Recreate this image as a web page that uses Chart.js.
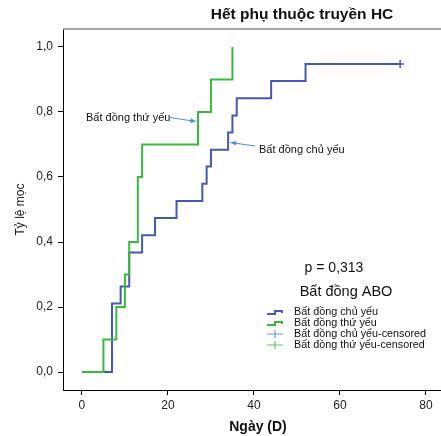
<!DOCTYPE html>
<html>
<head>
<meta charset="utf-8">
<script src="https://cdn.jsdelivr.net/npm/chart.js@4"></script>
<style>
body { margin: 0; background: #fff; }
</style>
</head>
<body>
<canvas id="kmChart" width="441" height="436"></canvas>
<script>
// Bất đồng chủ yếu (xanh dương)
var majorDays = [0, 7, 9, 11, 14, 17, 22, 28, 29, 30, 34, 35, 36, 44, 52, 74];
var majorRate = [0, 0.211, 0.263, 0.368, 0.421, 0.474, 0.526, 0.579, 0.632, 0.684, 0.737, 0.789, 0.842, 0.895, 0.947, 0.947];
var majorCensDays = [74];
var majorCensRate = [0.947];
// Bất đồng thứ yếu (xanh lá)
var minorDays = [0, 5, 8, 10, 11, 13, 14, 27, 30, 35];
var minorRate = [0, 0.1, 0.2, 0.3, 0.4, 0.6, 0.7, 0.8, 0.9, 1.0];
var minorCensDays = [];
var minorCensRate = [];

var xTicks = [0, 20, 40, 60, 80];
var yTicks = [0, 0.2, 0.4, 0.6, 0.8, 1.0];

var blue = '#4459b3';
var green = '#38bb3a';
var font = '"Liberation Sans", Arial, sans-serif';

function pts(xs, ys) {
  return xs.map(function (x, i) { return {x: x, y: ys[i]}; });
}

var extras = {
  id: 'extras',
  afterDraw: function (chart) {
    var ctx = chart.ctx, a = chart.chartArea;
    ctx.save();
    // top frame
    ctx.strokeStyle = '#8a8a8a';
    ctx.lineWidth = 1.5;
    ctx.beginPath();
    ctx.moveTo(a.left, a.top);
    ctx.lineTo(chart.width, a.top);
    ctx.stroke();

    ctx.fillStyle = '#111';
    ctx.textBaseline = 'middle';
    ctx.textAlign = 'center';
    ctx.font = 'bold 15.5px ' + font;
    ctx.fillText('Hết phụ thuộc truyền HC', 302, 15);
    ctx.font = 'bold 14px ' + font;
    ctx.fillText('Ngày (D)', 258, 427);

    // annotations
    ctx.font = '11px ' + font;
    ctx.textAlign = 'left';
    ctx.fillText('Bất đồng thứ yếu', 86, 118);
    ctx.fillText('Bất đồng chủ yếu', 259, 150);
    arrow(ctx, 170, 117.5, 196, 121.5);
    arrow(ctx, 255, 146, 230.5, 142.5);

    // legend
    ctx.fillStyle = '#111';
    ctx.textAlign = 'center';
    ctx.font = '14px ' + font;
    ctx.fillText('p = 0,313', 334, 268);
    ctx.font = '14.5px ' + font;
    ctx.fillText('Bất đồng ABO', 346, 292);
    ctx.textAlign = 'left';
    ctx.font = '10.8px ' + font;
    var rows = [
      ['Bất đồng chủ yếu', blue, 'step'],
      ['Bất đồng thứ yếu', green, 'step'],
      ['Bất đồng chủ yếu-censored', '#7d8fd8', 'cens'],
      ['Bất đồng thứ yếu-censored', '#5cc95c', 'cens']
    ];
    rows.forEach(function (r, i) {
      var y = 312 + i * 11;
      ctx.fillStyle = '#111';
      ctx.fillText(r[0], 294, y);
      ctx.strokeStyle = r[1];
      ctx.beginPath();
      if (r[2] === 'step') {
        ctx.lineWidth = 2;
        ctx.moveTo(267, y + 2);
        ctx.lineTo(275, y + 2);
        ctx.lineTo(275, y - 1);
        ctx.lineTo(282, y - 1);
        ctx.lineTo(282, y + 1);
      } else {
        ctx.lineWidth = 1.2;
        ctx.moveTo(267, y);
        ctx.lineTo(283, y);
        ctx.moveTo(275, y - 4);
        ctx.lineTo(275, y + 4);
      }
      ctx.stroke();
    });
    ctx.restore();
  }
};

function arrow(ctx, x1, y1, x2, y2) {
  var ang = Math.atan2(y2 - y1, x2 - x1);
  ctx.strokeStyle = '#4a90d9';
  ctx.fillStyle = '#4a90d9';
  ctx.lineWidth = 1;
  ctx.beginPath();
  ctx.moveTo(x1, y1);
  ctx.lineTo(x2, y2);
  ctx.stroke();
  ctx.beginPath();
  ctx.moveTo(x2, y2);
  ctx.lineTo(x2 - 6 * Math.cos(ang - 0.4), y2 - 6 * Math.sin(ang - 0.4));
  ctx.lineTo(x2 - 6 * Math.cos(ang + 0.4), y2 - 6 * Math.sin(ang + 0.4));
  ctx.closePath();
  ctx.fill();
}

var ctxK = document.getElementById('kmChart').getContext('2d');
var kmChart = new Chart(ctxK, {
  type: 'line',
  data: {
    datasets: [{
      label: 'Bất đồng thứ yếu',
      data: pts(minorDays, minorRate),
      borderColor: green,
      borderWidth: 2,
      stepped: 'before',
      pointRadius: 0,
      fill: false,
      order: 1
    },
    {
      label: 'Bất đồng chủ yếu',
      data: pts(majorDays, majorRate),
      borderColor: blue,
      borderWidth: 2,
      stepped: 'before',
      pointRadius: 0,
      fill: false,
      order: 2
    },
    {
      label: 'Bất đồng chủ yếu-censored',
      data: pts(majorCensDays, majorCensRate),
      showLine: false,
      pointStyle: 'cross',
      pointRadius: 4,
      borderColor: blue,
      borderWidth: 1.5,
      order: 0
    },
    {
      label: 'Bất đồng thứ yếu-censored',
      data: pts(minorCensDays, minorCensRate),
      showLine: false,
      pointStyle: 'cross',
      pointRadius: 4,
      borderColor: green,
      borderWidth: 1.5,
      order: 0
    }]
  },
  options: {
    responsive: false,
    animation: false,
    devicePixelRatio: 1,
    layout: { autoPadding: false, padding: { top: 29, left: 0, right: 0, bottom: 0 } },
    plugins: {
      legend: { display: false },
      tooltip: { enabled: false }
    },
    scales: {
      x: {
        type: 'linear',
        min: -4.4,
        max: 83.5,
        afterFit: function (s) { s.height = 46; s.paddingLeft = 0; s.paddingRight = 0; },
        afterBuildTicks: function (s) { s.ticks = xTicks.map(function (v) { return {value: v}; }); },
        ticks: { color: '#222', font: { family: font, size: 12 }, padding: 3, maxRotation: 0 },
        grid: { drawOnChartArea: false, drawTicks: true, tickLength: 5, color: '#000' },
        border: { color: '#000', width: 1 }
      },
      y: {
        type: 'linear',
        min: -0.055,
        max: 1.055,
        afterFit: function (s) { s.width = 63; s.paddingTop = 0; s.paddingBottom = 0; },
        afterBuildTicks: function (s) { s.ticks = yTicks.map(function (v) { return {value: v}; }); },
        ticks: {
          color: '#222',
          font: { family: font, size: 12 },
          padding: 5,
          callback: function (v) { return v.toFixed(1).replace('.', ','); }
        },
        grid: { drawOnChartArea: false, drawTicks: true, tickLength: 5, color: '#000' },
        border: { color: '#000', width: 1 },
        title: {
          display: true,
          text: 'Tỷ lệ mọc',
          color: '#222',
          font: { family: font, size: 12 },
          padding: { top: 13, bottom: 0 }
        }
      }
    }
  },
  plugins: [extras]
});
</script>
</body>
</html>
